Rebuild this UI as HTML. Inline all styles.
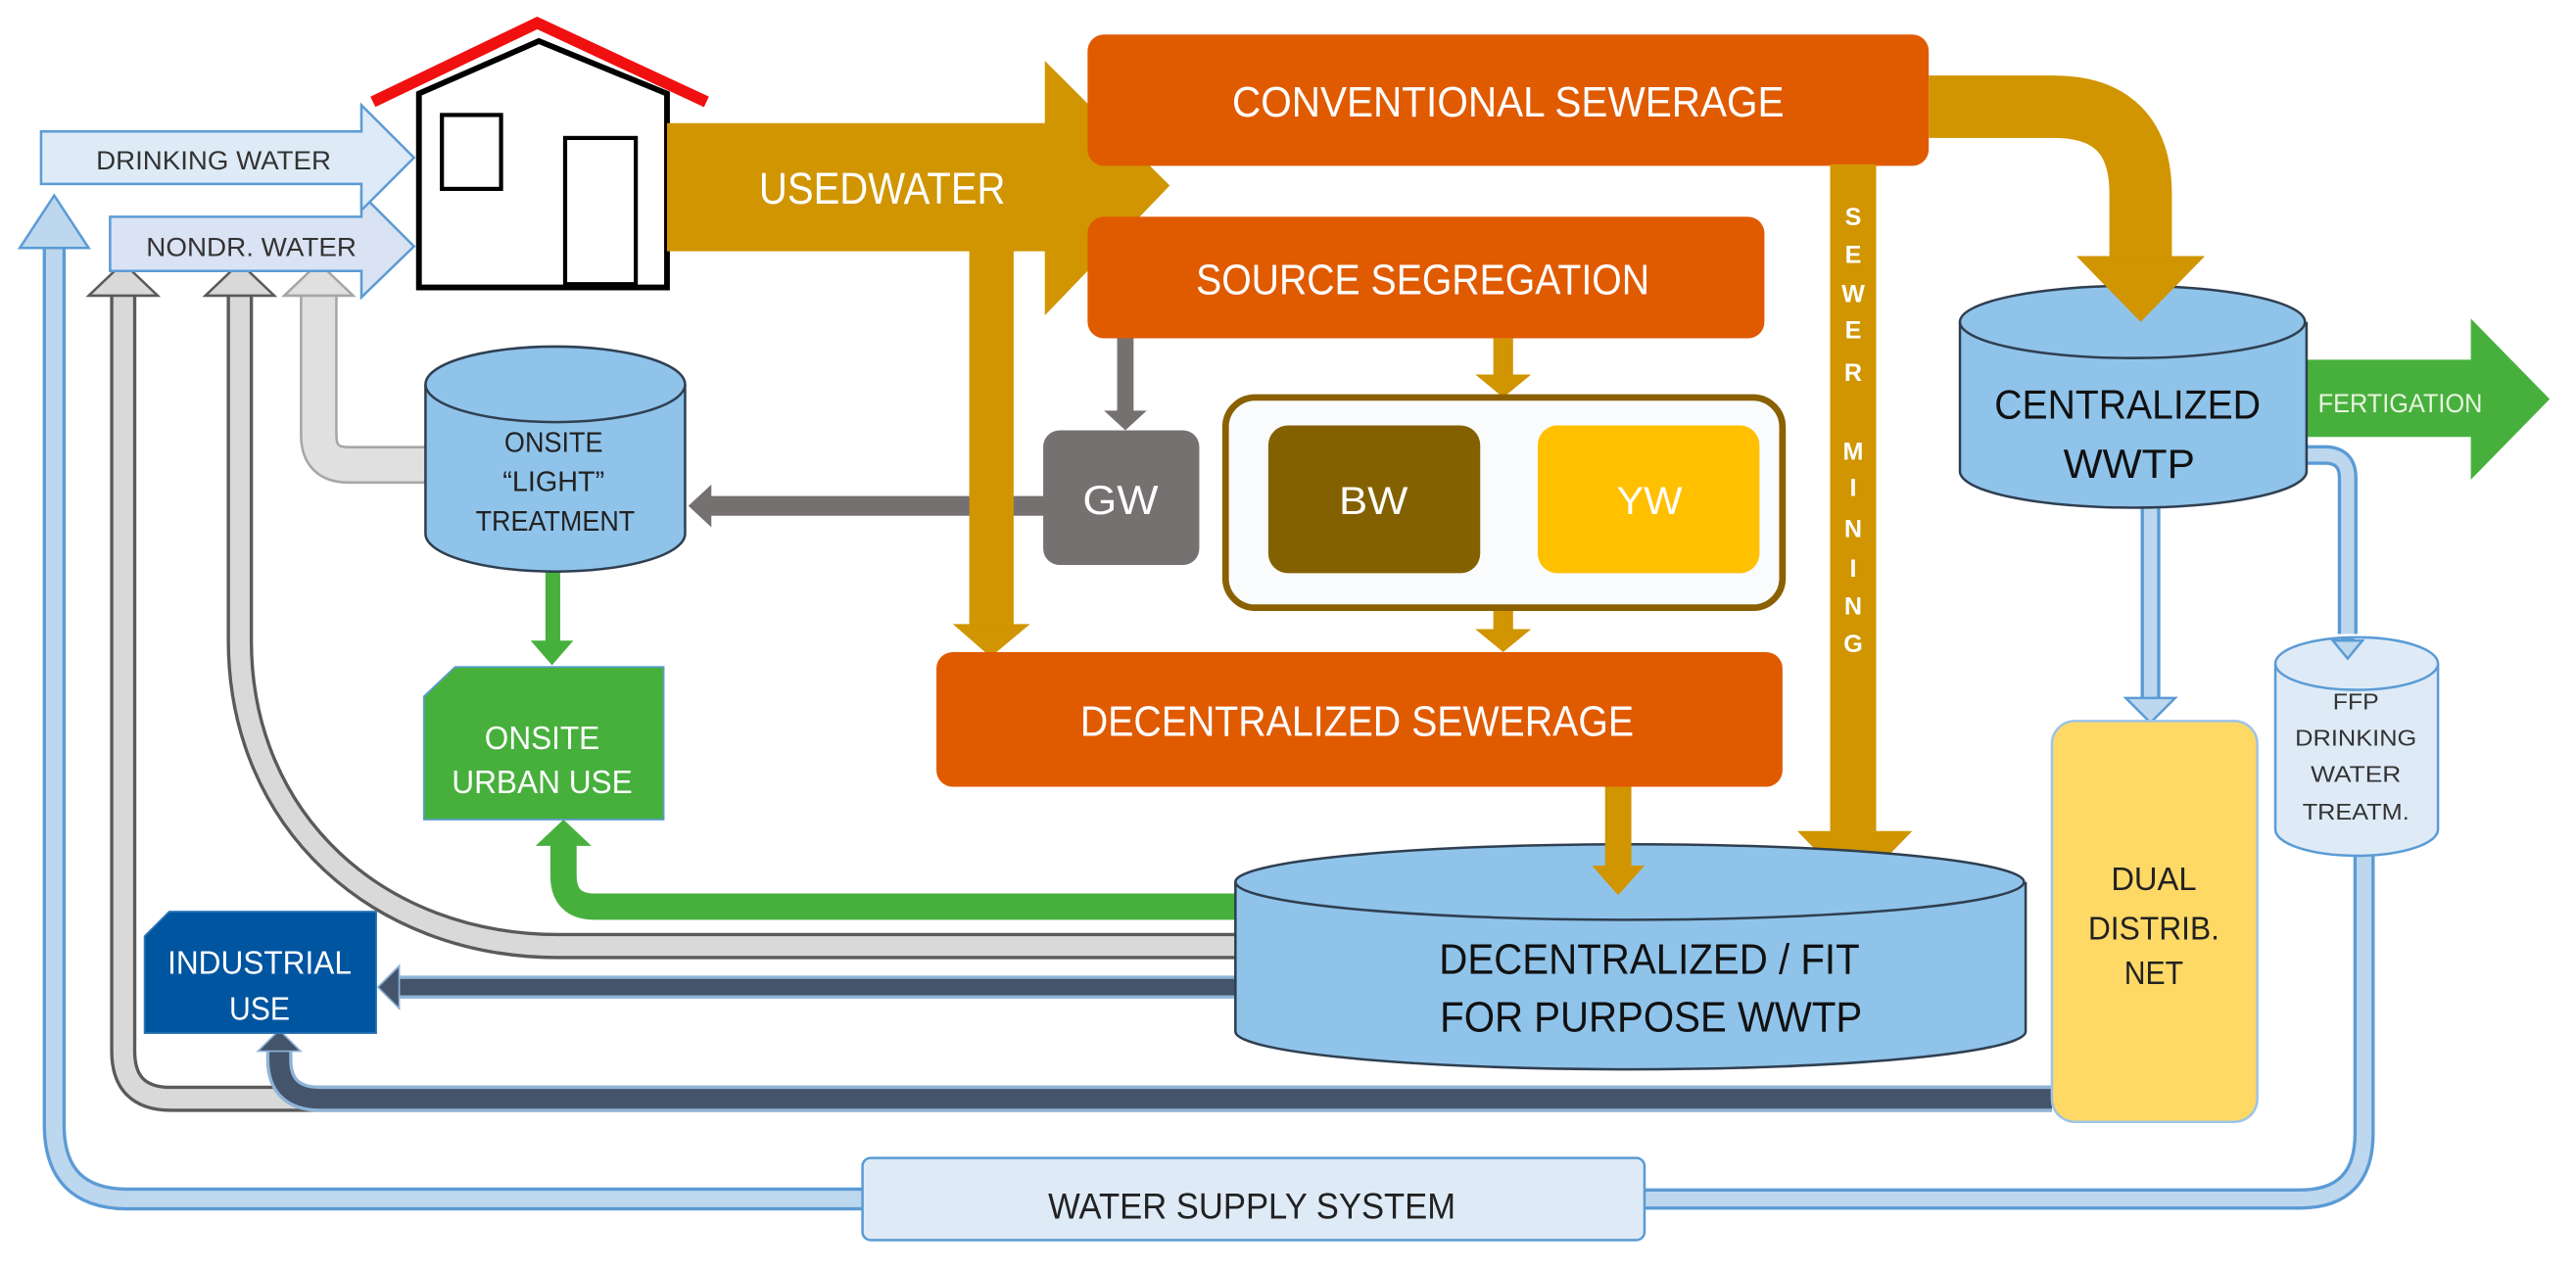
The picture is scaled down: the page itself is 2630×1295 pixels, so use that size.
<!DOCTYPE html>
<html><head><meta charset="utf-8"><style>
html,body{margin:0;padding:0;background:#fff;}
svg{display:block;}
text{font-family:"Liberation Sans Narrow","Liberation Sans",sans-serif;}
</style></head><body>
<svg width="2630" height="1295" viewBox="0 0 1568 772" preserveAspectRatio="none" xmlns="http://www.w3.org/2000/svg">
<rect width="1568" height="772" fill="#fff"/>

<!-- Outer light blue water supply loop -->
<g fill="none" stroke-linejoin="round">
<path d="M33,150 L33,685 Q33,730 78,730 L525,730" stroke="#5b9bd5" stroke-width="14"/>
<path d="M33,150 L33,685 Q33,730 78,730 L525,730" stroke="#bdd7ee" stroke-width="10"/>
<path d="M1000,730 L1400,730 Q1439,730 1439,690 L1439,518" stroke="#5b9bd5" stroke-width="13"/>
<path d="M1000,730 L1400,730 Q1439,730 1439,690 L1439,518" stroke="#bdd7ee" stroke-width="9"/>
</g>
<polygon points="12,151 33,119 54,151" fill="#bdd7ee" stroke="#5b9bd5" stroke-width="1.5"/>
<rect x="525" y="705" width="476" height="50" rx="5" fill="#deebf7" stroke="#5b9bd5" stroke-width="1.5"/>
<text x="762" y="742" font-size="22" text-anchor="middle" fill="#222" textLength="248" lengthAdjust="spacingAndGlyphs">WATER SUPPLY SYSTEM</text>

<!-- Gray tubes -->
<g fill="none">
<path d="M75,179 L75,640 Q75,669 104,669 L1249,669" stroke="#5a5a5a" stroke-width="16"/>
<path d="M75,179 L75,640 Q75,669 104,669 L1249,669" stroke="#d9d9d9" stroke-width="12"/>
<path d="M146,179 L146,390 C146,500 230,576 340,576 L753,576" stroke="#5a5a5a" stroke-width="16"/>
<path d="M146,179 L146,390 C146,500 230,576 340,576 L753,576" stroke="#d9d9d9" stroke-width="12"/>
<path d="M194,179 L194,265 Q194,283 212,283 L260,283" stroke="#a6a6a6" stroke-width="23"/>
<path d="M194,179 L194,265 Q194,283 212,283 L260,283" stroke="#e0e0e0" stroke-width="20"/>
</g>
<polygon points="54,180 75,160 96,180" fill="#d9d9d9" stroke="#5a5a5a" stroke-width="1.5"/>
<polygon points="125,180 146,160 167,180" fill="#d9d9d9" stroke="#5a5a5a" stroke-width="1.5"/>
<polygon points="173,180 194,160 215,180" fill="#e0e0e0" stroke="#a6a6a6" stroke-width="1.5"/>

<!-- Dark blue pipes -->
<g fill="none">
<path d="M1249,669 L195,669 Q170,669 170,645 L170,638" stroke="#8fb4d9" stroke-width="16"/>
<path d="M1249,669 L195,669 Q170,669 170,645 L170,638" stroke="#44546a" stroke-width="12"/>
<path d="M753,601 L242,601" stroke="#8fb4d9" stroke-width="14"/>
<path d="M753,601 L242,601" stroke="#44546a" stroke-width="10"/>
</g>
<polygon points="157,640 170,627 183,640" fill="#44546a" stroke="#8fb4d9" stroke-width="1"/>
<polygon points="243,588 230,601 243,614" fill="#44546a" stroke="#8fb4d9" stroke-width="1"/>

<!-- Green arrows -->
<path d="M753,552 L362,552 Q343,552 343,533 L343,514" fill="none" stroke="#47b03d" stroke-width="16"/>
<polygon points="326,515 343,499 360,515" fill="#47b03d"/>
<rect x="332" y="347" width="9" height="45" fill="#47b03d"/>
<polygon points="323,390 336,405 349,390" fill="#47b03d"/>

<!-- Industrial use -->
<polygon points="88,570 103,555 229,555 229,629 88,629" fill="#0055a0" stroke="#2e75b6" stroke-width="1"/>
<text x="158" y="593" font-size="20" text-anchor="middle" fill="#fff" textLength="112" lengthAdjust="spacingAndGlyphs">INDUSTRIAL</text>
<text x="158" y="621" font-size="20" text-anchor="middle" fill="#fff" textLength="37" lengthAdjust="spacingAndGlyphs">USE</text>

<!-- Onsite urban use -->
<polygon points="258,424 277,406 404,406 404,499 258,499" fill="#47b03d" stroke="#5b9bd5" stroke-width="1"/>
<text x="330" y="456" font-size="20" text-anchor="middle" fill="#fff" textLength="70" lengthAdjust="spacingAndGlyphs">ONSITE</text>
<text x="330" y="483" font-size="20" text-anchor="middle" fill="#fff" textLength="110" lengthAdjust="spacingAndGlyphs">URBAN USE</text>

<!-- Onsite light treatment cylinder -->
<path d="M259,234 L259,325 A79,23 0 0 0 417,325 L417,234" fill="#8fc3ea" stroke="#2f3f50" stroke-width="1.5"/>
<ellipse cx="338" cy="234" rx="79" ry="23" fill="#8fc3ea" stroke="#2f3f50" stroke-width="1.5"/>
<text x="337" y="275" font-size="17" text-anchor="middle" fill="#222" textLength="60" lengthAdjust="spacingAndGlyphs">ONSITE</text>
<text x="337" y="299" font-size="17" text-anchor="middle" fill="#222" textLength="62" lengthAdjust="spacingAndGlyphs">“LIGHT”</text>
<text x="338" y="323" font-size="17" text-anchor="middle" fill="#222" textLength="97" lengthAdjust="spacingAndGlyphs">TREATMENT</text>

<!-- GW -> cylinder gray arrow -->
<rect x="430" y="302" width="207" height="12" fill="#767171"/>
<polygon points="433,295 419,308 433,321" fill="#767171"/>
<!-- source seg -> GW -->
<rect x="680" y="205" width="10" height="47" fill="#767171"/>
<polygon points="672,250 685,262 698,250" fill="#767171"/>
<rect x="635" y="262" width="95" height="82" rx="10" fill="#767171"/>
<text x="682" y="313" font-size="25" text-anchor="middle" fill="#fff" textLength="46" lengthAdjust="spacingAndGlyphs">GW</text>

<!-- Drinking/nondr arrows -->
<polygon points="67,132 220,132 220,118 252,150 220,181 220,165 67,165" fill="#dae3f3" stroke="#5b9bd5" stroke-width="1.5"/>
<polygon points="25,80 220,80 220,64 252,96 220,128 220,112 25,112" fill="#deebf7" stroke="#5b9bd5" stroke-width="1.5"/>
<text x="130" y="103" font-size="16" text-anchor="middle" fill="#333" textLength="143" lengthAdjust="spacingAndGlyphs">DRINKING WATER</text>
<text x="153" y="156" font-size="16" text-anchor="middle" fill="#333" textLength="128" lengthAdjust="spacingAndGlyphs">NONDR. WATER</text>

<!-- House -->
<polyline points="227,62 327,14 430,62" fill="none" stroke="#f01010" stroke-width="7"/>
<polygon points="255,57 328,25 406,57 406,175 255,175" fill="#fff" stroke="#000" stroke-width="3.5"/>
<rect x="269" y="70" width="36" height="45" fill="#fff" stroke="#000" stroke-width="2.5"/>
<rect x="344" y="84" width="43" height="89" fill="#fff" stroke="#000" stroke-width="2.5"/>

<!-- Usedwater big arrow -->
<polygon points="406,75 636,75 636,37 712,113 636,192 636,153 406,153" fill="#d09500"/>
<text x="537" y="124" font-size="27" text-anchor="middle" fill="#fff" textLength="150" lengthAdjust="spacingAndGlyphs">USEDWATER</text>
<rect x="590" y="150" width="27" height="232" fill="#d09500"/>
<polygon points="580,380 603,400 627,380" fill="#d09500"/>

<!-- Conventional sewerage -->
<rect x="662" y="21" width="512" height="80" rx="10" fill="#e05a00"/>
<text x="918" y="71" font-size="26" text-anchor="middle" fill="#fff" textLength="336" lengthAdjust="spacingAndGlyphs">CONVENTIONAL SEWERAGE</text>
<!-- conv -> central curved arrow -->
<path d="M1174,65 L1250,65 Q1303,65 1303,118 L1303,158" fill="none" stroke="#d09500" stroke-width="38"/>
<polygon points="1264,156 1342,156 1303,196" fill="#d09500"/>

<!-- Source segregation -->
<rect x="662" y="132" width="412" height="74" rx="10" fill="#e05a00"/>
<text x="866" y="179" font-size="26" text-anchor="middle" fill="#fff" textLength="276" lengthAdjust="spacingAndGlyphs">SOURCE SEGREGATION</text>

<!-- gold small arrows -->
<rect x="909" y="206" width="12" height="24" fill="#d09500"/>
<polygon points="898,228 915,242 932,228" fill="#d09500"/>
<rect x="909" y="371" width="12" height="14" fill="#d09500"/>
<polygon points="898,383 915,397 932,383" fill="#d09500"/>

<!-- BW/YW container -->
<rect x="746" y="242" width="339" height="128" rx="18" fill="#f9fbfd" stroke="#8a6000" stroke-width="4"/>
<rect x="772" y="259" width="129" height="90" rx="12" fill="#846100"/>
<rect x="936" y="259" width="135" height="90" rx="12" fill="#ffc000"/>
<text x="836" y="313" font-size="24" text-anchor="middle" fill="#fff" textLength="42" lengthAdjust="spacingAndGlyphs">BW</text>
<text x="1004" y="313" font-size="24" text-anchor="middle" fill="#fff" textLength="40" lengthAdjust="spacingAndGlyphs">YW</text>

<!-- Decentralized sewerage -->
<rect x="570" y="397" width="515" height="82" rx="10" fill="#e05a00"/>
<text x="826" y="448" font-size="26" text-anchor="middle" fill="#fff" textLength="337" lengthAdjust="spacingAndGlyphs">DECENTRALIZED SEWERAGE</text>

<!-- Sewer mining -->
<rect x="1114" y="100" width="28" height="410" fill="#d09500"/>
<polygon points="1094,506 1164,506 1129,542" fill="#d09500"/>
<g font-size="15" fill="#fff" text-anchor="middle" font-weight="bold">
<text x="1128" y="137">S</text><text x="1128" y="160">E</text><text x="1128" y="184">W</text><text x="1128" y="206">E</text><text x="1128" y="232">R</text>
<text x="1128" y="280">M</text><text x="1128" y="302">I</text><text x="1128" y="327">N</text><text x="1128" y="351">I</text><text x="1128" y="374">N</text><text x="1128" y="397">G</text>
</g>

<!-- Decentralized WWTP cylinder -->
<path d="M752,537 L752,628 A240,23 0 0 0 1233,628 L1233,537" fill="#8fc3ea" stroke="#2f3f50" stroke-width="1.5"/>
<ellipse cx="992" cy="537" rx="240" ry="23" fill="#8fc3ea" stroke="#2f3f50" stroke-width="1.5"/>
<text x="1004" y="593" font-size="26" text-anchor="middle" fill="#111" textLength="256" lengthAdjust="spacingAndGlyphs">DECENTRALIZED / FIT</text>
<text x="1005" y="628" font-size="26" text-anchor="middle" fill="#111" textLength="257" lengthAdjust="spacingAndGlyphs">FOR PURPOSE WWTP</text>
<!-- decentral sewerage -> WWTP arrow (on top) -->
<rect x="977" y="479" width="16" height="50" fill="#d09500"/>
<polygon points="969,527 1001,527 985,545" fill="#d09500"/>

<!-- Central -> dual / FFP light blue pipes -->
<g fill="none">
<path d="M1309,305 L1309,427" stroke="#5b9bd5" stroke-width="12"/>
<path d="M1309,305 L1309,427" stroke="#bdd7ee" stroke-width="8"/>
<path d="M1400,277 L1415,277 Q1429,277 1429,291 L1429,386" stroke="#5b9bd5" stroke-width="12"/>
<path d="M1400,277 L1415,277 Q1429,277 1429,291 L1429,386" stroke="#bdd7ee" stroke-width="8"/>
</g>
<polygon points="1294,425 1324,425 1309,440" fill="#bdd7ee" stroke="#5b9bd5" stroke-width="1.5"/>

<!-- Fertigation -->
<polygon points="1402,219 1504,219 1504,194 1552,243 1504,292 1504,266 1402,266" fill="#47b03d"/>
<text x="1461" y="251" font-size="16" text-anchor="middle" fill="#e8f5e0" textLength="100" lengthAdjust="spacingAndGlyphs">FERTIGATION</text>

<!-- Centralized WWTP -->
<path d="M1193,196 L1193,287 A105,22 0 0 0 1404,287 L1404,196" fill="#8fc3ea" stroke="#2f3f50" stroke-width="1.5"/>
<ellipse cx="1298" cy="196" rx="105" ry="22" fill="#8fc3ea" stroke="#2f3f50" stroke-width="1.5"/>
<polygon points="1264,156 1342,156 1303,196" fill="#d09500"/>
<text x="1295" y="255" font-size="25" text-anchor="middle" fill="#111" textLength="162" lengthAdjust="spacingAndGlyphs">CENTRALIZED</text>
<text x="1296" y="291" font-size="25" text-anchor="middle" fill="#111" textLength="80" lengthAdjust="spacingAndGlyphs">WWTP</text>

<!-- Dual distrib -->
<rect x="1249" y="439" width="125" height="244" rx="14" fill="#ffd966" stroke="#9dc3e6" stroke-width="1.5"/>
<text x="1311" y="542" font-size="20" text-anchor="middle" fill="#222" textLength="52" lengthAdjust="spacingAndGlyphs">DUAL</text>
<text x="1311" y="572" font-size="20" text-anchor="middle" fill="#222" textLength="80" lengthAdjust="spacingAndGlyphs">DISTRIB.</text>
<text x="1311" y="599" font-size="20" text-anchor="middle" fill="#222" textLength="36" lengthAdjust="spacingAndGlyphs">NET</text>

<!-- FFP cylinder -->
<path d="M1385,404 L1385,505 A49.5,16 0 0 0 1484,505 L1484,404" fill="#deebf7" stroke="#5b9bd5" stroke-width="1.5"/>
<ellipse cx="1434.5" cy="404" rx="49.5" ry="16" fill="#deebf7" stroke="#5b9bd5" stroke-width="1.5"/>
<path d="M1429,388 L1429,392" stroke="#5b9bd5" stroke-width="8"/>
<polygon points="1420,390 1438,390 1429,401" fill="#bdd7ee" stroke="#5b9bd5" stroke-width="1.5"/>
<text x="1434" y="432" font-size="14" text-anchor="middle" fill="#333" textLength="28" lengthAdjust="spacingAndGlyphs">FFP</text>
<text x="1434" y="454" font-size="14" text-anchor="middle" fill="#333" textLength="74" lengthAdjust="spacingAndGlyphs">DRINKING</text>
<text x="1434" y="476" font-size="14" text-anchor="middle" fill="#333" textLength="55" lengthAdjust="spacingAndGlyphs">WATER</text>
<text x="1434" y="499" font-size="14" text-anchor="middle" fill="#333" textLength="65" lengthAdjust="spacingAndGlyphs">TREATM.</text>
</svg>
</body></html>
